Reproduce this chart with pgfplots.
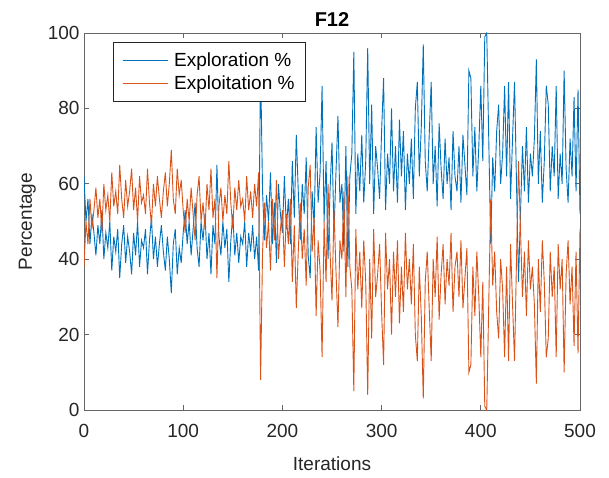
\documentclass[border=0pt]{standalone}
\usepackage{pgfplots}
\pgfplotsset{compat=1.18}
\usepackage{pgfplotstable}
\usepackage{fontspec}
\setmainfont{Liberation Sans}
\definecolor{mblue}{rgb}{0,0.447,0.741}
\definecolor{morange}{rgb}{0.85,0.325,0.098}
\definecolor{mgray}{rgb}{0.15,0.15,0.15}
\definecolor{axgray}{rgb}{0.4,0.4,0.4}
\pgfplotstableread{
it ex et
0 62 38
2 50 50
4 56 44
6 44 56
8 52 48
10 47 53
12 41 59
14 49 51
16 44 56
18 53 47
20 40 60
22 47 53
24 43 57
26 50 50
28 37 63
30 46 54
32 42 58
34 48 52
36 35 65
38 44 56
40 49 51
42 39 61
44 46 54
46 42 58
48 36 64
50 47 53
52 41 59
54 50 50
56 38 62
58 45 55
60 43 57
62 48 52
64 36 64
66 45 55
68 51 49
70 40 60
72 46 54
74 38 62
76 44 56
78 49 51
80 42 58
82 37 63
84 46 54
86 40 60
88 31 69
90 44 56
92 48 52
94 36 64
96 43 57
98 39 61
100 47 53
102 53 47
104 44 56
106 50 50
108 41 59
110 48 52
112 55 45
114 43 57
116 38 62
118 50 50
120 45 55
122 52 48
124 40 60
126 47 53
128 36 64
130 49 51
132 44 56
134 65 35
136 46 54
138 41 59
140 50 50
142 43 57
144 48 52
146 34 66
148 45 55
150 52 48
152 41 59
154 47 53
156 39 61
158 46 54
160 44 56
162 50 50
164 38 62
166 47 53
168 42 58
170 49 51
172 40 60
174 46 54
176 37 63
178 92 8
180 58 42
182 45 55
184 57 43
186 50 50
188 63 37
190 44 56
192 55 45
194 39 61
196 60 40
198 52 48
200 47 53
202 62 38
204 48 52
206 56 44
208 44 56
210 66 34
212 51 49
214 73 27
216 58 42
218 45 55
220 60 40
222 52 48
224 67 33
226 41 59
228 35 65
230 58 42
232 49 51
234 75 25
236 55 45
238 63 37
240 86 14
242 50 50
244 66 34
246 40 60
248 58 42
250 71 29
252 47 53
254 63 37
256 78 22
258 55 45
260 60 40
262 42 58
264 70 30
266 38 62
268 62 38
270 68 32
272 95 5
274 52 48
276 68 32
278 58 42
280 73 27
282 55 45
284 66 34
286 96 4
288 60 40
290 81 19
292 52 48
294 70 30
296 64 36
298 56 44
300 74 26
302 88 12
304 53 47
306 68 32
308 60 40
310 80 20
312 58 42
314 70 30
316 55 45
318 77 23
320 62 38
322 74 26
324 53 47
326 68 32
328 60 40
330 72 28
332 56 44
334 80 20
336 87 13
338 62 38
340 75 25
342 97 3
344 66 34
346 58 42
348 73 27
350 87 13
352 60 40
354 70 30
356 54 46
358 76 24
360 64 36
362 56 44
364 72 28
366 60 40
368 67 33
370 53 47
372 74 26
374 62 38
376 58 42
378 70 30
380 55 45
382 73 27
384 65 35
386 57 43
388 90 10
390 88 12
392 62 38
394 75 25
396 58 42
398 70 30
400 86 14
402 66 34
404 99 1
406 100 0
408 72 28
410 44 56
412 67 33
414 58 42
416 74 26
418 81 19
420 60 40
422 68 32
424 86 14
426 62 38
428 87 13
430 56 44
432 72 28
434 87 13
436 60 40
438 34 66
440 52 48
442 70 30
444 58 42
446 75 25
448 55 45
450 68 32
452 62 38
454 72 28
456 93 7
458 60 40
460 74 26
462 55 45
464 66 34
466 86 14
468 81 19
470 58 42
472 70 30
474 62 38
476 86 14
478 56 44
480 68 32
482 60 40
484 90 10
486 64 36
488 55 45
490 72 28
492 62 38
494 83 17
496 58 42
498 85 15
500 52 48
}\data
\begin{document}
\begin{tikzpicture}
\useasboundingbox (-84pt,-67pt) rectangle (525pt,410pt);
\begin{axis}[
  at={(0pt,0pt)}, anchor=south west,
  scale only axis, width=496pt, height=377pt,
  xmin=0, xmax=500, ymin=0, ymax=100,
  xtick={0,100,200,300,400,500},
  ytick={0,20,40,60,80,100},
  axis line style={axgray, line width=0.8pt},
  tick style={axgray, line width=0.8pt},
  major tick length=5pt,
  tick align=inside,
  /pgf/number format/assume math mode=true,
  ticklabel style={font=\fontsize{19}{22}\selectfont, text=mgray},
  xticklabel style={yshift=-11pt},
  yticklabel style={xshift=-1pt},
  label style={font=\fontsize{19}{22}\selectfont, text=mgray},
  xlabel={Iterations},
  xlabel style={yshift=-12pt},
  ylabel={Percentage},
  ylabel style={yshift=5pt},
  title={\textbf{F12}},
  title style={font=\fontsize{20}{24}\selectfont, yshift=-3pt},
  legend style={at={(0.0585,0.975)}, anchor=north west, draw=mgray,
    font=\fontsize{19}{22}\selectfont, inner xsep=9pt, inner ysep=8pt,
    row sep=4pt, cells={anchor=west}},
  legend image code/.code={\draw[#1, line width=0.9pt] (0pt,0pt) -- (45pt,0pt); \path (49pt,0pt);},
  legend cell align=left,
]
\addplot[mblue, line width=0.9pt] table[x=it, y=ex] {\data};
\addlegendentry{Exploration \%}
\addplot[morange, line width=0.9pt] table[x=it, y=et] {\data};
\addlegendentry{Exploitation \%}
\end{axis}
\end{tikzpicture}
\end{document}
